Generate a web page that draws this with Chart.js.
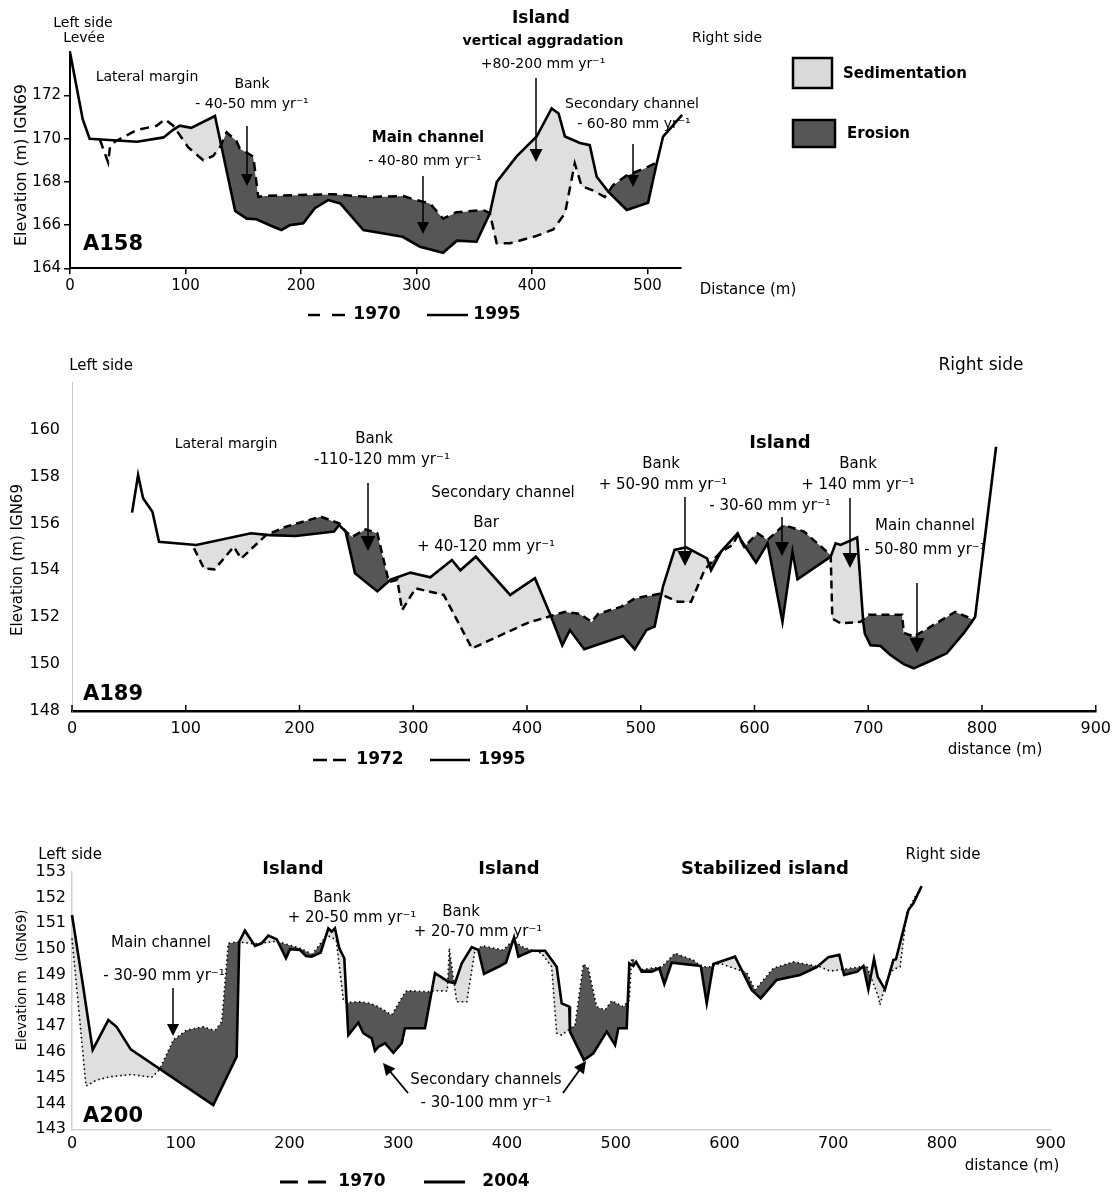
<!DOCTYPE html>
<html>
<head>
<meta charset="utf-8">
<script src="https://cdn.jsdelivr.net/npm/chart.js@4.4.1/dist/chart.umd.min.js"></script>
<style>
  body { margin: 0; background: #fff; width: 1119px; height: 1193px; position: relative; overflow: hidden; }
  canvas { position: absolute; left: 0; }
</style>
</head>
<body>
<canvas id="c1" width="1119" height="335" style="top:0px"></canvas>
<canvas id="c2" width="1119" height="445" style="top:335px"></canvas>
<canvas id="c3" width="1119" height="413" style="top:780px"></canvas>
<script>
const W = 1119;
const FONT = "'DejaVu Sans', Verdana, sans-serif";
const SED = "#dfdfdf";
const ERO = "#565656";

// ---- A158 : [distance m, elevation m] ----
const a158_1995 = [[0,174],[11,170.9],[17,170.0],[58,169.86],[81,170.06],[89,170.4],[95,170.6],[105,170.5],[125.5,171.05],[143,166.65],[153,166.3],[161.5,166.27],[174.5,165.96],[183,165.77],[190.5,166.0],[202,166.08],[212,166.78],[223.5,167.16],[234,167.0],[254,165.77],[288,165.46],[303,165.0],[323,164.72],[335,165.28],[352,165.23],[363.5,166.55],[369.5,168.0],[386.5,169.17],[404,170.1],[417,171.4],[423,171.17],[428.5,170.1],[441.5,169.8],[450,169.7],[456,168.24],[466,167.55],[482,166.7],[500.5,167.04],[508,168.86],[513.5,170.1],[530,171.1]];
const a158_1970 = [[26,169.94],[33,168.9],[34.6,169.6],[38.8,169.86],[57.7,170.4],[75,170.6],[82.3,170.9],[89.4,170.6],[102.4,169.6],[115.4,169.0],[124,169.2],[130,169.63],[135.6,170.3],[144,169.9],[147,169.55],[158.7,169.17],[163,167.3],[168,167.35],[228,167.43],[259,167.3],[288.6,167.35],[297,167.2],[311.7,167.0],[323,166.3],[334.6,166.6],[357.8,166.7],[363.5,166.55],[369.4,165.16],[381,165.16],[404,165.5],[418.4,165.8],[428.6,166.55],[437,168.86],[443,167.8],[453,167.6],[463,167.3],[470.4,167.86],[482,168.3],[496.4,168.6],[508,168.9]];
const a158XTicks = [0, 100, 200, 300, 400, 500];
const a158YTicks = [164, 166, 168, 170, 172];

// ---- A189 ----
const a189_1995 = [[52.8,156.46],[58.1,158.06],[62.5,157.07],[70.7,156.5],[76.5,155.22],[109.2,155.08],[157.4,155.58],[173.5,155.5],[196.8,155.46],[230.4,155.65],[234.8,155.93],[240.6,155.65],[248.8,153.87],[268.4,153.1],[280,153.6],[297.6,153.9],[315,153.7],[334,154.44],[341.4,154.0],[355,154.58],[385.2,152.95],[407,153.66],[421,152.05],[431,150.8],[437.7,151.45],[450.3,150.63],[484.5,151.2],[494.7,150.63],[505,151.45],[512.2,151.6],[519.5,153.3],[529.7,154.87],[540,154.98],[558.3,154.51],[561.8,154.0],[570.6,154.8],[585.2,155.58],[588,155.3],[601.3,154.33],[611.5,155.15],[624.6,151.8],[633.4,154.8],[637.8,153.62],[667,154.58],[671.3,155.15],[675.7,155.08],[690.3,155.4],[695.6,151.8],[697,151.3],[702,150.8],[710.8,150.77],[719.5,150.39],[731.2,150.0],[740,149.82],[753,150.1],[769,150.46],[783.8,151.31],[791,151.8],[794,152.02],[812.4,159.27]];
const a189_1972 = [[107.2,154.94],[116,154.08],[125.3,154.04],[142.2,155.0],[148.7,154.5],[170.6,155.5],[188,155.86],[218.7,156.29],[234.8,156.0],[240.6,155.65],[246.4,155.43],[258.2,155.75],[268.4,155.58],[278.6,153.5],[286,153.6],[290.2,152.3],[302,153.23],[326.8,152.95],[351.6,150.67],[401.2,151.77],[421,152.05],[433.4,152.23],[446.5,152.14],[456.7,151.8],[462.6,152.14],[483,152.45],[494.7,152.8],[516.6,153.0],[532.6,152.66],[544.3,152.66],[556,154.0],[561.8,154.33],[570.6,154.8],[580.8,155.08],[585.2,155.5],[591,155.0],[602.7,155.58],[611.5,155.3],[626,155.93],[643.6,155.65],[667,154.65],[668.4,151.94],[675.7,151.74],[693.2,151.8],[700.6,152.1],[729.8,152.1],[731.2,151.34],[740,151.17],[757.5,151.67],[776.5,152.23],[786.5,152.02],[792,151.9]];
const a189XTicks = [0, 100, 200, 300, 400, 500, 600, 700, 800, 900];
const a189YTicks = [148, 150, 152, 154, 156, 158, 160];

// ---- A200 ----
const a200_2004 = [[0,151.32],[9.8,148.67],[19,146.08],[33.4,147.24],[41,146.98],[54,146.1],[129.9,143.94],[151.4,145.82],[153.8,150.28],[159,150.71],[168.3,150.12],[174.4,150.22],[180.5,150.52],[188.2,150.38],[196.8,149.64],[200.4,149.99],[209.7,149.96],[215.2,149.73],[220.4,149.7],[228.7,149.86],[235.7,150.8],[238.8,150.67],[241.8,150.8],[245.8,150.03],[250.4,149.64],[254.1,146.66],[263.3,147.14],[267.9,146.73],[275.6,146.53],[278.6,146.05],[281.7,146.2],[287.8,146.34],[295.5,145.97],[303.2,146.34],[306.2,146.92],[324.6,146.92],[333.8,149.06],[346,148.73],[352.2,148.67],[358.4,149.44],[367.6,150.07],[373.6,149.96],[378.9,149.03],[393.6,149.34],[399.1,149.47],[406.5,150.45],[410.5,149.7],[422.7,149.93],[435,149.93],[445.7,149.31],[450.3,147.89],[457.3,147.76],[457.9,146.79],[464,146.27],[470.8,145.69],[479.4,145.95],[491.7,146.79],[499.4,146.27],[502.4,146.92],[510.1,146.92],[512.5,149.44],[516.2,149.34],[518.7,149.5],[523.9,149.12],[533.1,149.12],[540.1,149.25],[544.7,148.64],[551.5,149.47],[578.2,149.34],[583.7,147.89],[589.8,149.42],[609.7,149.7],[625,148.41],[633.3,148.08],[648,148.8],[669.5,148.99],[684.8,149.29],[695.5,149.68],[705.6,149.77],[710,148.99],[722.2,149.12],[727.7,149.34],[732.3,148.43],[737.5,149.61],[740.9,148.92],[747.6,148.43],[755.3,149.57],[757.7,149.6],[769.1,151.51],[773.7,151.77],[781.3,152.44]];
const a200_1970 = [[0,150.41],[12.9,144.68],[22.6,144.91],[34.9,145.04],[54.8,145.13],[73.3,145.02],[80.3,145.3],[93.1,146.47],[105.5,146.85],[120.8,146.98],[131.5,146.83],[137.7,147.18],[143.7,150.22],[152,150.28],[168,150.2],[188,150.3],[209.7,150.03],[221,149.8],[228.7,150.22],[234.2,150.54],[243,150.35],[249.5,148.02],[252.6,147.92],[264.9,147.95],[274,147.89],[281.7,147.76],[294,147.44],[304.7,148.21],[307.8,148.38],[329.2,148.34],[333.8,148.38],[345.1,148.37],[347,150.03],[350.7,148.86],[353.8,147.95],[363,147.95],[370.6,149.96],[377.7,150.12],[396.6,149.96],[405.8,150.35],[413.5,150.09],[431.9,149.83],[441.1,149.31],[445.7,146.73],[450.3,146.66],[462.6,147.05],[470.2,149.42],[474.8,149.25],[482.5,147.76],[490.1,147.63],[496.3,147.99],[507,147.76],[512.5,148.02],[514.6,149.64],[524,149.2],[542.3,149.31],[554.5,149.83],[571.3,149.57],[579,149.31],[586.7,149.31],[596,149.44],[620.5,149.08],[628.1,148.41],[635.7,148.8],[644.9,149.25],[663.3,149.5],[687.9,149.31],[697.1,149.14],[730.8,149.34],[741.5,148.15],[743,147.83],[749.2,148.8],[755.3,149.21],[761.5,149.31],[767.6,151.38],[775.3,152.03],[779.8,152.29]];
const a200XTicks = [0, 100, 200, 300, 400, 500, 600, 700, 800, 900];
const a200YTicks = [143, 144, 145, 146, 147, 148, 149, 150, 151, 152, 153];

const pts = arr => arr.map(p => ({ x: p[0], y: p[1] }));

function font(size, bold) {
  return (bold ? "bold " : "") + size + "px " + FONT;
}

function text(ctx, t, x, y, size, bold, align) {
  ctx.font = font(size, bold);
  ctx.fillStyle = "#000";
  ctx.textAlign = align || "center";
  ctx.textBaseline = "middle";
  ctx.fillText(t, x, y);
}

function arrow(ctx, x1, y1, x2, y2, lw, head) {
  const a = Math.atan2(y2 - y1, x2 - x1);
  const hl = head || 12, hw = hl * 0.5;
  ctx.strokeStyle = "#000";
  ctx.fillStyle = "#000";
  ctx.lineWidth = lw || 1.5;
  ctx.setLineDash([]);
  ctx.beginPath();
  ctx.moveTo(x1, y1);
  ctx.lineTo(x2 - Math.cos(a) * hl * 0.8, y2 - Math.sin(a) * hl * 0.8);
  ctx.stroke();
  ctx.beginPath();
  ctx.moveTo(x2, y2);
  ctx.lineTo(x2 - Math.cos(a) * hl + Math.sin(a) * hw, y2 - Math.sin(a) * hl - Math.cos(a) * hw);
  ctx.lineTo(x2 - Math.cos(a) * hl - Math.sin(a) * hw, y2 - Math.sin(a) * hl + Math.cos(a) * hw);
  ctx.closePath();
  ctx.fill();
}

function seg(ctx, x1, y1, x2, y2, lw) {
  ctx.setLineDash([]);
  ctx.lineWidth = lw;
  ctx.strokeStyle = "#000";
  ctx.beginPath();
  ctx.moveTo(x1, y1);
  ctx.lineTo(x2, y2);
  ctx.stroke();
}

// key "- - 1970   —— 1995"
function yearKey(ctx, y, dashes, solid, oldT, newT, lw) {
  dashes.forEach(d => seg(ctx, d[0], y, d[1], y, lw));
  seg(ctx, solid[0], y, solid[1], y, lw);
  text(ctx, oldT[0], oldT[1], y, 17, true);
  text(ctx, newT[0], newT[1], y, 17, true);
}

function makeChart(id, top, h, s) {
  const datasets = [
    { data: pts(s.recent), borderColor: "#000", borderWidth: 2.6, pointRadius: 0, tension: 0, clip: false,
      fill: { target: s.fillFrom != null ? 2 : 1, above: SED, below: ERO } },
    { data: pts(s.old), borderColor: "#000", borderWidth: s.oldWidth, borderDash: s.oldDash, pointRadius: 0,
      tension: 0, clip: false, fill: false }
  ];
  if (s.fillFrom != null) {
    // invisible copy of the old profile, used only as the fill boundary
    datasets.push({ data: pts(s.old.filter(p => p[0] >= s.fillFrom)), borderColor: "rgba(0,0,0,0)",
      borderWidth: 1, pointRadius: 0, tension: 0, fill: false });
  }
  return new Chart(document.getElementById(id), {
    type: "line",
    data: { datasets },
    options: {
      responsive: false,
      animation: false,
      events: [],
      layout: { padding: { left: 0, top: s.area.t - top, right: W - s.area.r, bottom: top + h - s.area.b - 30 } },
      plugins: {
        legend: { display: false },
        tooltip: { enabled: false },
        filler: { drawTime: "beforeDatasetsDraw" }
      },
      scales: {
        x: {
          type: "linear", min: s.x.min, max: s.x.max,
          afterFit: sc => { sc.height = 30; },
          afterBuildTicks: sc => { sc.ticks = s.x.ticks.map(v => ({ value: v })); },
          grid: { drawOnChartArea: false, drawTicks: s.x.outTicks, tickLength: 6, color: "#000", lineWidth: 1.5 },
          border: { color: s.x.color, width: s.x.width },
          ticks: { color: "#000", font: { family: FONT, size: s.x.size }, padding: s.x.pad, maxRotation: 0, autoSkip: false }
        },
        y: {
          type: "linear", min: s.y.min, max: s.y.max,
          afterFit: sc => { sc.width = s.area.l; },
          afterBuildTicks: sc => { sc.ticks = s.y.ticks.map(v => ({ value: v })); },
          grid: { drawOnChartArea: false, drawTicks: s.y.outTicks, tickLength: 6, color: "#000", lineWidth: 1.5 },
          border: { color: s.y.color, width: s.y.width },
          ticks: { color: "#000", font: { family: FONT, size: s.y.size }, padding: s.y.pad, autoSkip: false }
        }
      }
    },
    plugins: [{
      id: "notes",
      afterDraw(chart) {
        const ctx = chart.ctx;
        ctx.save();
        ctx.translate(0, -top);
        s.notes(ctx, chart);
        ctx.restore();
      }
    }]
  });
}

// ---------- A158 ----------
makeChart("c1", 0, 335, {
  recent: a158_1995, old: a158_1970, oldWidth: 2.5, oldDash: [9, 6], fillFrom: 89,
  area: { l: 70, r: 681, t: 52.3, b: 268.3 },
  x: { min: 0, max: 529, ticks: a158XTicks, outTicks: true, color: "#000", width: 2, size: 15, pad: 3 },
  y: { min: 164, max: 174, ticks: a158YTicks, outTicks: true, color: "#000", width: 2, size: 15, pad: 3 },
  notes(ctx) {
    text(ctx, "Left side", 83, 23, 14);
    text(ctx, "Levée", 84, 38, 14);
    text(ctx, "Lateral margin", 147, 77, 14);
    text(ctx, "Bank", 252, 84, 14);
    text(ctx, "- 40-50 mm yr⁻¹", 252, 104, 14);
    arrow(ctx, 247, 126, 247, 186);
    text(ctx, "Main channel", 428, 138, 15, true);
    text(ctx, "- 40-80 mm yr⁻¹", 425, 161, 14);
    arrow(ctx, 423, 176, 423, 234);
    text(ctx, "Island", 541, 19, 17, true);
    text(ctx, "vertical aggradation", 543, 41, 14, true);
    text(ctx, "+80-200 mm yr⁻¹", 543, 64, 14);
    arrow(ctx, 536, 78, 536, 162, 1.5, 13);
    text(ctx, "Secondary channel", 632, 104, 14);
    text(ctx, "- 60-80 mm yr⁻¹", 634, 124, 14);
    arrow(ctx, 633, 144, 633, 187);
    text(ctx, "Right side", 727, 38, 14);
    // area legend
    ctx.setLineDash([]);
    ctx.lineWidth = 2.5;
    ctx.strokeStyle = "#000";
    ctx.fillStyle = "#d9d9d9";
    ctx.fillRect(793, 58, 39, 30);
    ctx.strokeRect(793, 58, 39, 30);
    ctx.fillStyle = ERO;
    ctx.fillRect(793, 120, 42, 27);
    ctx.strokeRect(793, 120, 42, 27);
    text(ctx, "Sedimentation", 843, 74, 15, true, "left");
    text(ctx, "Erosion", 847, 134, 15, true, "left");
    text(ctx, "A158", 113, 245, 21, true);
    text(ctx, "Distance (m)", 748, 290, 15);
    ctx.save();
    ctx.translate(22, 165);
    ctx.rotate(-Math.PI / 2);
    text(ctx, "Elevation (m) IGN69", 0, 0, 16);
    ctx.restore();
    yearKey(ctx, 315, [[308, 320], [332, 345]], [427, 468], ["1970", 377], ["1995", 497], 2.5);
  }
});

// ---------- A189 ----------
makeChart("c2", 335, 445, {
  recent: a189_1995, old: a189_1972, oldWidth: 2.5, oldDash: [8, 5],
  area: { l: 72, r: 1099, t: 382.7, b: 711 },
  x: { min: 0, max: 900, ticks: a189XTicks, outTicks: false, color: "#000", width: 2.5, size: 16, pad: 8 },
  y: { min: 148, max: 162, ticks: a189YTicks, outTicks: false, color: "#c8c8c8", width: 1, size: 16, pad: 12 },
  notes(ctx, chart) {
    // inward ticks on the distance axis
    const xs = chart.scales.x;
    a189XTicks.forEach(v => {
      const px = xs.getPixelForValue(v);
      seg(ctx, px, 711, px, 705, 1.5);
    });
    text(ctx, "Left side", 101, 366, 15);
    text(ctx, "Right side", 981, 366, 17);
    text(ctx, "Lateral margin", 226, 444, 14);
    text(ctx, "Bank", 374, 439, 15);
    text(ctx, "-110-120 mm yr⁻¹", 382, 460, 15);
    arrow(ctx, 368, 483, 368, 551, 1.5, 15);
    text(ctx, "Secondary channel", 503, 493, 15);
    text(ctx, "Bar", 486, 523, 15);
    text(ctx, "+ 40-120 mm yr⁻¹", 486, 547, 15);
    text(ctx, "Island", 780, 443, 18, true);
    text(ctx, "Bank", 661, 464, 15);
    text(ctx, "+ 50-90 mm yr⁻¹", 663, 485, 15);
    arrow(ctx, 685, 497, 685, 566, 1.5, 15);
    text(ctx, "- 30-60 mm yr⁻¹", 770, 506, 15);
    arrow(ctx, 782, 517, 782, 556, 1.5, 14);
    text(ctx, "Bank", 858, 464, 15);
    text(ctx, "+ 140 mm yr⁻¹", 858, 485, 15);
    arrow(ctx, 850, 498, 850, 568, 1.5, 15);
    text(ctx, "Main channel", 925, 526, 15);
    text(ctx, "- 50-80 mm yr⁻¹", 925, 550, 15);
    arrow(ctx, 917, 583, 917, 653, 1.5, 15);
    text(ctx, "A189", 113, 695, 21, true);
    text(ctx, "distance (m)", 995, 750, 15);
    ctx.save();
    ctx.translate(18, 560);
    ctx.rotate(-Math.PI / 2);
    text(ctx, "Elevation (m) IGN69", 0, 0, 15);
    ctx.restore();
    yearKey(ctx, 760, [[313, 327], [333, 346]], [430, 470], ["1972", 380], ["1995", 502], 2.5);
  }
});

// ---------- A200 ----------
makeChart("c3", 780, 413, {
  recent: a200_2004, old: a200_1970, oldWidth: 1.6, oldDash: [1.5, 3],
  area: { l: 72, r: 1050.7, t: 871.7, b: 1129.3 },
  x: { min: 0, max: 900, ticks: a200XTicks, outTicks: false, color: "#d0d0d0", width: 1.5, size: 16, pad: 5 },
  y: { min: 143, max: 153, ticks: a200YTicks, outTicks: false, color: "#d0d0d0", width: 1.5, size: 16, pad: 6 },
  notes(ctx) {
    text(ctx, "Left side", 70, 855, 15);
    text(ctx, "Right side", 943, 855, 15);
    text(ctx, "Island", 293, 869, 18, true);
    text(ctx, "Island", 509, 869, 18, true);
    text(ctx, "Stabilized island", 765, 869, 18, true);
    text(ctx, "Bank", 332, 898, 15);
    text(ctx, "+ 20-50 mm yr⁻¹", 352, 918, 15);
    text(ctx, "Bank", 461, 912, 15);
    text(ctx, "+ 20-70 mm yr⁻¹", 478, 932, 15);
    text(ctx, "Main channel", 161, 943, 15);
    text(ctx, "- 30-90 mm yr⁻¹", 164, 976, 15);
    arrow(ctx, 173, 988, 173, 1036);
    text(ctx, "Secondary channels", 486, 1080, 15);
    text(ctx, "- 30-100 mm yr⁻¹", 486, 1103, 15);
    arrow(ctx, 408, 1093, 383, 1063, 1.8);
    arrow(ctx, 563, 1093, 586, 1061, 1.8);
    text(ctx, "A200", 113, 1117, 21, true);
    text(ctx, "distance (m)", 1012, 1166, 15);
    ctx.save();
    ctx.translate(22, 980);
    ctx.rotate(-Math.PI / 2);
    text(ctx, "Elevation m  (IGN69)", 0, 0, 13.5);
    ctx.restore();
    yearKey(ctx, 1182, [[280, 298], [308, 326]], [424, 465], ["1970", 362], ["2004", 506], 3);
  }
});
</script>
</body>
</html>
